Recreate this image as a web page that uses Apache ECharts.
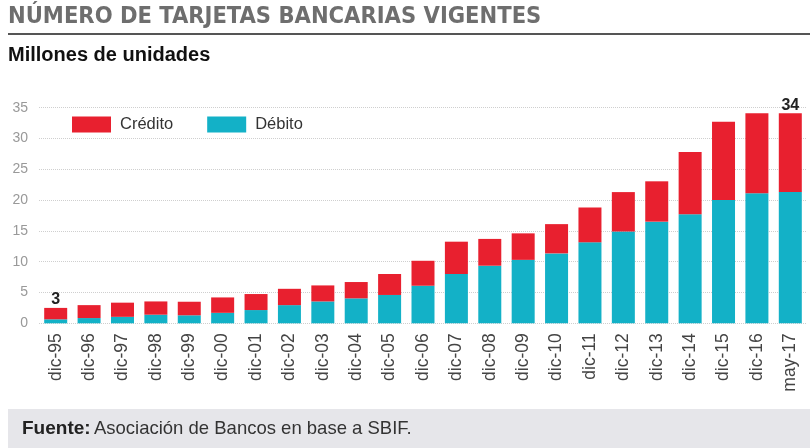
<!DOCTYPE html>
<html><head><meta charset="utf-8">
<script src="https://cdn.jsdelivr.net/npm/echarts@6/dist/echarts.min.js"></script>
<style>html,body{margin:0;padding:0;background:#fff}#c{width:810px;height:448px}</style>
</head><body><div id="c"></div>
<script>
const categories = ['dic-95','dic-96','dic-97','dic-98','dic-99','dic-00','dic-01','dic-02','dic-03','dic-04','dic-05','dic-06','dic-07','dic-08','dic-09','dic-10','dic-11','dic-12','dic-13','dic-14','dic-15','dic-16','may-17'];
const debito = [0.65,0.85,1.05,1.4,1.3,1.7,2.15,2.95,3.55,4.05,4.6,6.1,8.0,9.35,10.3,11.35,13.15,14.9,16.5,17.7,20.0,21.1,21.3];
const credito = [1.85,2.1,2.3,2.15,2.2,2.5,2.6,2.65,2.6,2.65,3.4,4.05,5.25,4.35,4.3,4.75,5.65,6.4,6.55,10.1,12.7,13.0,12.8];
const topLabels = ['3','','','','','','','','','','','','','','','','','','','','','','34'];
const yTicks = [0,5,10,15,20,25,30,35];

const chart = echarts.init(document.getElementById('c'));
chart.setOption({
  animation: false,
  textStyle: {fontFamily: 'Liberation Sans, Arial, sans-serif'},
  grid: {left: 39, right: 3, top: 107.7, bottom: 124.7, containLabel: false},
  legend: {
    left: 67, top: 111, itemWidth: 39, itemHeight: 16, itemGap: 34,
    textStyle: {fontSize: 16.5, color: '#333', fontFamily: 'Liberation Sans', padding: [0, 0, 0, 4]},
    data: [{name: 'Crédito', icon: 'rect'}, {name: 'Débito', icon: 'rect'}]
  },
  xAxis: {
    type: 'category', data: categories,
    axisLine: {show: false}, axisTick: {show: false},
    axisLabel: {rotate: 90, margin: 10, fontSize: 17.5, color: '#444', fontFamily: 'Liberation Sans', interval: 0}
  },
  yAxis: {
    type: 'value', min: yTicks[0], max: yTicks[yTicks.length-1], interval: 5,
    axisLine: {show: false}, axisTick: {show: false},
    axisLabel: {fontSize: 14, color: '#999', margin: 11, fontFamily: 'Liberation Sans'},
    splitLine: {lineStyle: {color: '#cfcfcf', type: [1, 1], width: 1}}
  },
  series: [
    {name: 'Débito', type: 'bar', stack: 't', data: debito, barWidth: 23, itemStyle: {color: '#13b1c7'}},
    {name: 'Crédito', type: 'bar', stack: 't', data: credito, barWidth: 23, itemStyle: {color: '#e8202f'},
     label: {show: true, position: 'top', distance: 0, fontSize: 16, fontWeight: 'bold', color: '#222',
       fontFamily: 'Liberation Sans',
       formatter: p => topLabels[p.dataIndex]}}
  ],
  graphic: [
    {type: 'text', left: 8, top: 5, style: {text: 'NÚMERO DE TARJETAS BANCARIAS VIGENTES', fill: '#6e6e6e',
      font: 'bold 23.5px "DejaVu Sans Condensed", sans-serif'}},
    {type: 'rect', shape: {x: 8, y: 33, width: 802, height: 2}, style: {fill: '#555'}},
    {type: 'text', left: 8, top: 45, style: {text: 'Millones de unidades', fill: '#111',
      font: 'bold 20px "Liberation Sans", sans-serif'}},
    {type: 'rect', shape: {x: 8, y: 409, width: 802, height: 39}, style: {fill: '#e6e6ea'}},
    {type: 'text', left: 22, top: 419, style: {
      rich: {b: {font: 'bold 19px "Liberation Sans", sans-serif', fill: '#222'},
             n: {font: '18.5px "Liberation Sans", sans-serif', fill: '#333'}},
      text: '{b|Fuente:} {n|Asociación de Bancos en base a SBIF.}'}}
  ]
});
</script></body></html>
